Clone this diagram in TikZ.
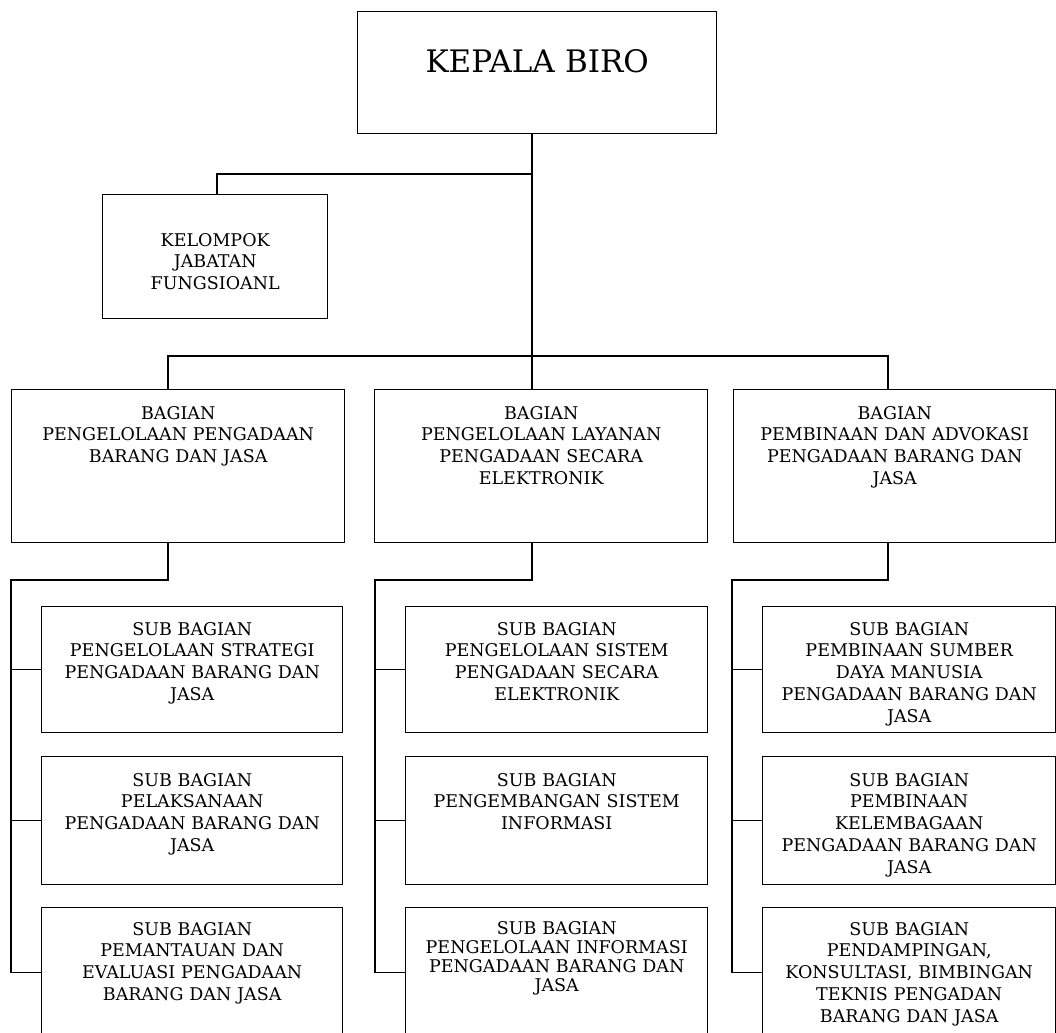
\documentclass[tikz,border=0pt]{standalone}
\usepackage{fontspec}
\setmainfont{DejaVu Serif}
\usetikzlibrary{positioning}

\begin{document}
\begin{tikzpicture}
	[x=1pt, y=-1pt,
	every node/.style={scale=1},
	unit/.style = {draw, line width=1.4pt, anchor=north west, inner xsep=0pt, inner ysep=0pt,
		align=center, font=\fontsize{17.5}{21.7}\selectfont},
	line/.style = {line width=1.4pt}
	]
	\useasboundingbox (0,0) rectangle (1056,1032);

	% pimpinan
	\node[unit, text width=359pt, text height=61pt, text depth=61pt, font=\fontsize{31}{36}\selectfont]
		(kepala) at (357,11) {KEPALA BIRO};
	\node[unit, text width=225pt, text height=51.5pt, text depth=72.5pt]
		(kelompok) at (102,194) {KELOMPOK\\JABATAN\\FUNGSIOANL};

	% bagian
	\node[unit, text width=333pt, text height=29.5pt, text depth=123.5pt] (bag1) at (11,389)
		{BAGIAN\\PENGELOLAAN PENGADAAN\\BARANG DAN JASA};
	\node[unit, text width=333pt, text height=29.5pt, text depth=123.5pt] (bag2) at (374,389)
		{BAGIAN\\PENGELOLAAN LAYANAN\\PENGADAAN SECARA\\ELEKTRONIK};
	\node[unit, text width=322pt, text height=29.5pt, text depth=123.5pt] (bag3) at (733,389)
		{BAGIAN\\PEMBINAAN DAN ADVOKASI\\PENGADAAN BARANG DAN\\JASA};

	% sub bagian
	\node[unit, text width=301pt, text height=28.5pt, text depth=97.5pt] (sub11) at (41,606)
		{SUB BAGIAN\\PENGELOLAAN STRATEGI\\PENGADAAN BARANG DAN\\JASA};
	\node[unit, text width=301pt, text height=29.5pt, text depth=98.5pt] (sub12) at (41,756)
		{SUB BAGIAN\\PELAKSANAAN\\PENGADAAN BARANG DAN\\JASA};
	\node[unit, text width=301pt, text height=27.5pt, text depth=101.5pt] (sub13) at (41,907)
		{SUB BAGIAN\\PEMANTAUAN DAN\\EVALUASI PENGADAAN\\BARANG DAN JASA};

	\node[unit, text width=302pt, text height=28.5pt, text depth=97.5pt] (sub21) at (405,606)
		{SUB BAGIAN\\PENGELOLAAN SISTEM\\PENGADAAN SECARA\\ELEKTRONIK};
	\node[unit, text width=302pt, text height=29.5pt, text depth=98.5pt] (sub22) at (405,756)
		{SUB BAGIAN\\PENGEMBANGAN SISTEM\\INFORMASI};
	\node[unit, text width=302pt, text height=26.5pt, text depth=102.5pt,
		font=\fontsize{17.5}{19}\selectfont] (sub23) at (405,907)
		{SUB BAGIAN\\PENGELOLAAN INFORMASI\\PENGADAAN BARANG DAN\\JASA};

	\node[unit, text width=293pt, text height=28.5pt, text depth=97.5pt] (sub31) at (762,606)
		{SUB BAGIAN\\PEMBINAAN SUMBER\\DAYA MANUSIA\\PENGADAAN BARANG DAN\\JASA};
	\node[unit, text width=293pt, text height=29.5pt, text depth=98.5pt] (sub32) at (762,756)
		{SUB BAGIAN\\PEMBINAAN\\KELEMBAGAAN\\PENGADAAN BARANG DAN\\JASA};
	\node[unit, text width=293pt, text height=27.5pt, text depth=101.5pt] (sub33) at (762,907)
		{SUB BAGIAN\\PENDAMPINGAN,\\KONSULTASI, BIMBINGAN\\TEKNIS PENGADAN\\BARANG DAN JASA};

	% garis
	\coordinate (bus) at (532,356);
	\coordinate (stem1) at (168,0);
	\coordinate (stem3) at (888,0);
	\coordinate (kel) at (217,174);
	\coordinate (rail1) at (11,580);
	\coordinate (rail2) at (375,580);
	\coordinate (rail3) at (732,580);

	\draw[line] (kepala.south -| bus) -- (bus);
	\draw[line] (kelompok.north -| kel) -- (kel) -- (kel -| bus);
	\draw[line] (bag1.north -| stem1) |- (bus) -| (bag3.north -| stem3);
	\draw[line] (bus) -- (bag2.north -| bus);

	\draw[line] (bag1.south -| stem1) |- (rail1) |- (sub13.west);
	\draw[line] (bag2.south -| bus) |- (rail2) |- (sub23.west);
	\draw[line] (bag3.south -| stem3) |- (rail3) |- (sub33.west);
	\foreach \i in {1,2,3}{
		\foreach \j in {1,2}
			\draw[line] (sub\i\j.west -| rail\i) -- (sub\i\j.west);
	}
\end{tikzpicture}
\end{document}
